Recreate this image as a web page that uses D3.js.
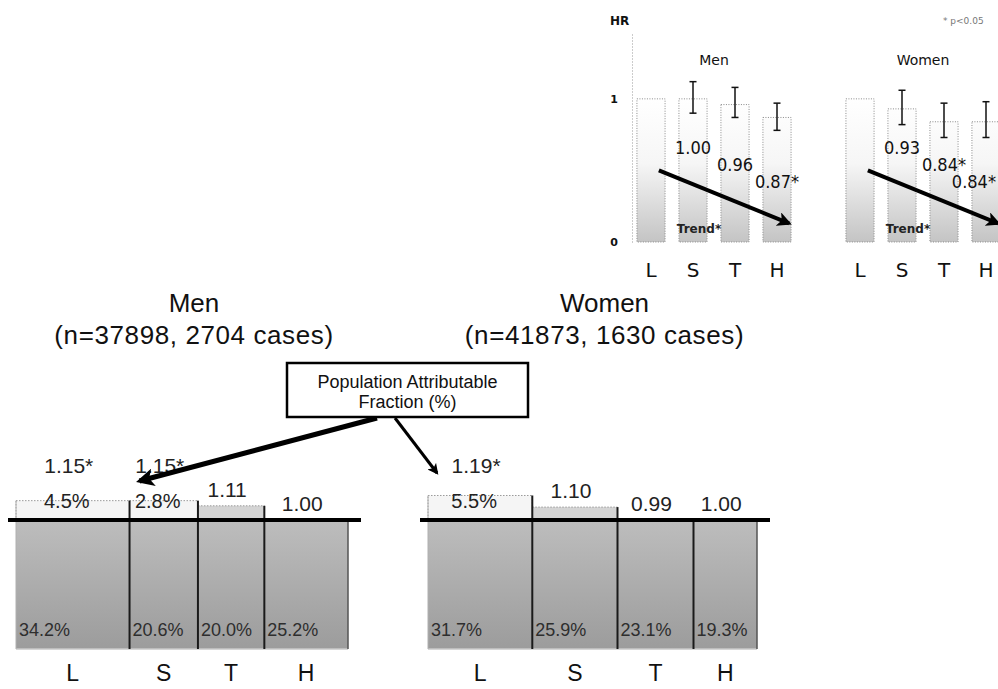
<!DOCTYPE html>
<html>
<head>
<meta charset="utf-8">
<script src="https://cdn.jsdelivr.net/npm/d3@7"></script>
<style>
  body { margin: 0; background: #fff; }
  svg { display: block; }
</style>
</head>
<body>
<svg id="chart" width="998" height="689"></svg>
<script>
// activity categories
var cats = ["L", "S", "T", "H"];
var groups = ["Men", "Women"];
var groupN = [37898, 41873];
var groupCases = [2704, 1630];

// lower chart: bar width = share of population (%), bar height = HR
var menPop = [34.2, 20.6, 20.0, 25.2];
var menHR = [1.15, 1.15, 1.11, 1.00];
var menSig = [true, true, false, false];
var menPAF = [4.5, 2.8, null, null];

var womenPop = [31.7, 25.9, 23.1, 19.3];
var womenHR = [1.19, 1.10, 0.99, 1.00];
var womenSig = [true, false, false, false];
var womenPAF = [5.5, null, null, null];

// inset: HR with 95% CI (L is reference)
var insetMenHR = [1.00, 1.00, 0.96, 0.87];
var insetMenLo = [null, 0.90, 0.87, 0.78];
var insetMenHi = [null, 1.12, 1.08, 0.97];
var insetMenSig = [false, false, false, true];

var insetWomenHR = [1.00, 0.93, 0.84, 0.84];
var insetWomenLo = [null, 0.82, 0.73, 0.73];
var insetWomenHi = [null, 1.06, 0.97, 0.98];
var insetWomenSig = [false, false, true, true];

var insetTicks = [0, 1];

var svg = d3.select("#chart");
var defs = svg.append("defs");
var sans = "'Liberation Sans', Arial, Helvetica, sans-serif";
var verd = "'DejaVu Sans', Verdana, sans-serif";

// ---------- scales ----------
var yB = d3.scaleLinear().domain([0, 1]).range([649, 520]);
var yIn = d3.scaleLinear().domain([0, 1.46]).range([242, 33]);

// ---------- defs ----------
var g1 = defs.append("linearGradient").attr("id", "barGrad")
  .attr("gradientUnits", "userSpaceOnUse")
  .attr("x1", 0).attr("y1", yB(1)).attr("x2", 0).attr("y2", yB(0));
g1.append("stop").attr("offset", "0%").attr("stop-color", "#bdbdbd");
g1.append("stop").attr("offset", "100%").attr("stop-color", "#9c9c9c");

var g2 = defs.append("linearGradient").attr("id", "inGrad")
  .attr("gradientUnits", "userSpaceOnUse")
  .attr("x1", 0).attr("y1", yIn(1)).attr("x2", 0).attr("y2", yIn(0));
g2.append("stop").attr("offset", "0%").attr("stop-color", "#ffffff");
g2.append("stop").attr("offset", "45%").attr("stop-color", "#f6f6f6");
g2.append("stop").attr("offset", "100%").attr("stop-color", "#c4c4c4");

defs.append("marker")
  .attr("id", "head")
  .attr("viewBox", "0 0 10 10")
  .attr("refX", 8).attr("refY", 5)
  .attr("markerWidth", 3.6).attr("markerHeight", 3.6)
  .attr("orient", "auto")
  .append("path")
  .attr("d", "M0,0 L10,5 L0,10 L2.5,5 z")
  .attr("fill", "#000");

// ---------- lower chart ----------
function drawBottom(gi, pop, hr, sig, paf, range) {
  var x = d3.scaleLinear().domain([0, 100]).range(range);
  var cum = [0].concat(Array.from(d3.cumsum(pop)));
  var bars = cats.map(function(c, i) {
    return { cat: c, i: i, x0: x(cum[i]), x1: x(cum[i + 1]), hr: hr[i],
             sig: sig[i], paf: paf[i], pop: pop[i] };
  });
  var g = svg.append("g");

  // main part of the bar (up to HR 1)
  g.selectAll("rect.low").data(bars).enter().append("rect")
    .attr("class", "low")
    .attr("x", function(d) { return d.x0; })
    .attr("y", function(d) { return yB(Math.min(d.hr, 1)); })
    .attr("width", function(d) { return d.x1 - d.x0; })
    .attr("height", function(d) { return yB(0) - yB(Math.min(d.hr, 1)); })
    .attr("fill", "url(#barGrad)");

  // excess risk above HR 1
  g.selectAll("rect.high").data(bars.filter(function(d) { return d.hr > 1; })).enter().append("rect")
    .attr("class", "high")
    .attr("x", function(d) { return d.x0; })
    .attr("y", function(d) { return yB(d.hr); })
    .attr("width", function(d) { return d.x1 - d.x0; })
    .attr("height", function(d) { return yB(1) - yB(d.hr); })
    .attr("fill", function(d) { return d.paf != null ? "#f5f5f5" : "#d4d4d4"; })
    .attr("stroke", "#9a9a9a")
    .attr("stroke-width", 1)
    .attr("stroke-dasharray", "1.5,1.5");

  // bottom edge
  g.append("line")
    .attr("x1", range[0]).attr("x2", range[1])
    .attr("y1", yB(0)).attr("y2", yB(0))
    .attr("stroke", "#c8c8c8").attr("stroke-width", 1.5);

  // left edge
  g.append("line")
    .attr("x1", range[0]).attr("x2", range[0])
    .attr("y1", yB(Math.max(hr[0], 1))).attr("y2", yB(0))
    .attr("stroke", "#b0b0b0").attr("stroke-width", 1);

  // dividers between bars and right edge
  g.selectAll("line.div").data(bars).enter().append("line")
    .attr("class", "div")
    .attr("x1", function(d) { return d.x1; })
    .attr("x2", function(d) { return d.x1; })
    .attr("y1", function(d) {
      var top = yB(Math.max(d.hr, 1));
      if (d.i < bars.length - 1) top = Math.min(top, yB(Math.max(bars[d.i + 1].hr, 1)));
      return top;
    })
    .attr("y2", yB(0))
    .attr("stroke", function(d) { return d.i < bars.length - 1 ? "#1a1a1a" : "#555"; })
    .attr("stroke-width", function(d) { return d.i < bars.length - 1 ? 2 : 1.5; });

  // HR = 1 reference line
  g.append("line")
    .attr("x1", range[0] - 8).attr("x2", range[1] + 13)
    .attr("y1", yB(1)).attr("y2", yB(1))
    .attr("stroke", "#000").attr("stroke-width", 4);

  // population share inside bars
  g.selectAll("text.pop").data(bars).enter().append("text")
    .attr("class", "pop")
    .attr("x", function(d) { return d.x0 + 3; })
    .attr("y", yB(0) - 13)
    .attr("font-family", sans).attr("font-size", 18)
    .attr("fill", "#2e2e2e")
    .text(function(d) { return d.pop.toFixed(1) + "%"; });

  // PAF labels
  g.selectAll("text.paf").data(bars.filter(function(d) { return d.paf != null; })).enter().append("text")
    .attr("class", "paf")
    .attr("x", function(d) { return (d.x0 + d.x1) / 2 - 6; })
    .attr("y", yB(1) - 12)
    .attr("text-anchor", "middle")
    .attr("font-family", sans).attr("font-size", 20)
    .attr("fill", "#222")
    .text(function(d) { return d.paf.toFixed(1) + "%"; });

  // HR labels
  g.selectAll("text.hr").data(bars).enter().append("text")
    .attr("class", "hr")
    .attr("x", function(d) { return (d.x0 + d.x1) / 2 - 4; })
    .attr("y", function(d) { return d.paf != null ? yB(1) - 47 : yB(Math.max(d.hr, 1)) - 9; })
    .attr("text-anchor", "middle")
    .attr("font-family", sans).attr("font-size", 21)
    .attr("fill", "#222")
    .text(function(d) { return d.hr.toFixed(2) + (d.sig ? "*" : ""); });

  // category labels
  g.selectAll("text.cat").data(bars).enter().append("text")
    .attr("class", "cat")
    .attr("x", function(d) { return (d.x0 + d.x1) / 2; })
    .attr("y", 681)
    .attr("text-anchor", "middle")
    .attr("font-family", sans).attr("font-size", 23)
    .attr("fill", "#111")
    .text(function(d) { return d.cat; });

  // titles
  var cx = (range[0] + range[1]) / 2 + 12;
  g.append("text")
    .attr("x", cx).attr("y", 312)
    .attr("text-anchor", "middle")
    .attr("font-family", sans).attr("font-size", 26)
    .attr("fill", "#111")
    .text(groups[gi]);
  g.append("text")
    .attr("x", cx).attr("y", 344)
    .attr("text-anchor", "middle")
    .attr("font-family", sans).attr("font-size", 26)
    .attr("letter-spacing", 0.6)
    .attr("fill", "#111")
    .text("(n=" + groupN[gi] + ", " + groupCases[gi] + " cases)");

  return { x: x, cum: cum };
}

var men = drawBottom(0, menPop, menHR, menSig, menPAF, [16, 348]);
var women = drawBottom(1, womenPop, womenHR, womenSig, womenPAF, [428, 757]);

// PAF box with arrows
var box = svg.append("g");
box.append("line")
  .attr("x1", 377).attr("y1", 418)
  .attr("x2", men.x(men.cum[1]) + 10).attr("y2", yB(1) - 39)
  .attr("stroke", "#000").attr("stroke-width", 5)
  .attr("marker-end", "url(#head)");
box.append("line")
  .attr("x1", 395).attr("y1", 418)
  .attr("x2", women.x(0) + 9).attr("y2", yB(1) - 47)
  .attr("stroke", "#000").attr("stroke-width", 3)
  .attr("marker-end", "url(#head)");
box.append("rect")
  .attr("x", 287).attr("y", 363).attr("width", 241).attr("height", 54)
  .attr("fill", "#fff").attr("stroke", "#000").attr("stroke-width", 2.5);
box.append("text")
  .attr("x", 407.5).attr("y", 388)
  .attr("text-anchor", "middle")
  .attr("font-family", sans).attr("font-size", 18).attr("fill", "#111")
  .text("Population Attributable");
box.append("text")
  .attr("x", 407.5).attr("y", 408)
  .attr("text-anchor", "middle")
  .attr("font-family", sans).attr("font-size", 18).attr("fill", "#111")
  .text("Fraction (%)");

// ---------- inset ----------
var inset = svg.append("g");

inset.append("g")
  .attr("transform", "translate(632,0)")
  .call(d3.axisLeft(yIn).tickValues(insetTicks).tickSize(0).tickPadding(14).tickFormat(d3.format("d")))
  .call(function(a) {
    a.select(".domain").attr("stroke", "#999").attr("stroke-dasharray", "1,2");
    a.selectAll("text").attr("font-family", verd).attr("font-size", 11)
      .attr("font-weight", "bold").attr("fill", "#111");
  });

inset.append("text")
  .attr("x", 610).attr("y", 25)
  .attr("font-family", verd).attr("font-size", 12).attr("font-weight", "bold")
  .attr("fill", "#111")
  .text("HR");
inset.append("text")
  .attr("x", 943).attr("y", 24)
  .attr("font-family", verd).attr("font-size", 9)
  .attr("fill", "#777")
  .text("* p<0.05");

function drawInset(gi, hr, lo, hi, sig, range) {
  var x = d3.scaleBand().domain(cats).range(range).paddingInner(0.33).paddingOuter(0.165);
  var bw = x.bandwidth();
  var rows = cats.map(function(c, i) {
    return { cat: c, hr: hr[i], lo: lo[i], hi: hi[i], sig: sig[i] };
  });
  var g = inset.append("g");

  g.selectAll("rect").data(rows).enter().append("rect")
    .attr("x", function(d) { return x(d.cat); })
    .attr("y", function(d) { return yIn(d.hr); })
    .attr("width", bw)
    .attr("height", function(d) { return yIn(0) - yIn(d.hr); })
    .attr("fill", "url(#inGrad)")
    .attr("stroke", "#8a8a8a")
    .attr("stroke-width", 1)
    .attr("stroke-dasharray", "1,1.5");

  // confidence intervals
  var ci = rows.filter(function(d) { return d.lo != null; });
  var cx = function(d) { return x(d.cat) + bw / 2; };
  g.selectAll("line.ci").data(ci).enter().append("line")
    .attr("class", "ci")
    .attr("x1", cx).attr("x2", cx)
    .attr("y1", function(d) { return yIn(d.hi); })
    .attr("y2", function(d) { return yIn(d.lo); })
    .attr("stroke", "#111").attr("stroke-width", 1.5);
  ["hi", "lo"].forEach(function(k) {
    g.selectAll("line.cap" + k).data(ci).enter().append("line")
      .attr("class", "cap" + k)
      .attr("x1", function(d) { return cx(d) - 3.5; })
      .attr("x2", function(d) { return cx(d) + 3.5; })
      .attr("y1", function(d) { return yIn(d[k]); })
      .attr("y2", function(d) { return yIn(d[k]); })
      .attr("stroke", "#111").attr("stroke-width", 1.5);
  });

  // trend arrow
  var ax0 = x("L") + bw * 0.78, ay0 = yIn(0.5);
  var ax1 = x("H") + bw - 2, ay1 = yIn(0.13);
  var arrowY = function(px) { return ay0 + (ay1 - ay0) * (px - ax0) / (ax1 - ax0); };
  g.append("line")
    .attr("x1", ax0).attr("y1", ay0).attr("x2", ax1).attr("y2", ay1)
    .attr("stroke", "#000").attr("stroke-width", 4)
    .attr("marker-end", "url(#head)");

  // HR labels, kept inside the picture
  g.selectAll("text.val").data(rows.slice(1)).enter().append("text")
    .attr("class", "val")
    .attr("x", cx)
    .attr("y", function(d) { return arrowY(cx(d)) - 30; })
    .attr("text-anchor", "middle")
    .attr("font-family", "'DejaVu Sans Condensed', 'DejaVu Sans', sans-serif")
    .attr("font-size", 18)
    .attr("fill", "#111")
    .text(function(d) { return d.hr.toFixed(2) + (d.sig ? "*" : ""); })
    .each(function(d) {
      var w = this.getComputedTextLength();
      var px = Math.min(cx(d), 996 - w / 2);
      d3.select(this).attr("x", px);
    });

  g.append("text")
    .attr("x", x("S") + bw / 2 + 6).attr("y", yIn(0.06))
    .attr("text-anchor", "middle")
    .attr("font-family", verd).attr("font-size", 12).attr("font-weight", "bold")
    .attr("fill", "#222")
    .text("Trend*");

  g.append("text")
    .attr("x", (range[0] + range[1]) / 2).attr("y", 65)
    .attr("text-anchor", "middle")
    .attr("font-family", verd).attr("font-size", 14)
    .attr("fill", "#111")
    .text(groups[gi]);

  g.selectAll("text.cat").data(rows).enter().append("text")
    .attr("class", "cat")
    .attr("x", cx)
    .attr("y", 277)
    .attr("text-anchor", "middle")
    .attr("font-family", verd).attr("font-size", 20)
    .attr("fill", "#111")
    .text(function(d) { return d.cat; });
}

drawInset(0, insetMenHR, insetMenLo, insetMenHi, insetMenSig, [630, 798]);
drawInset(1, insetWomenHR, insetWomenLo, insetWomenHi, insetWomenSig, [839, 1007]);
</script>
</body>
</html>
